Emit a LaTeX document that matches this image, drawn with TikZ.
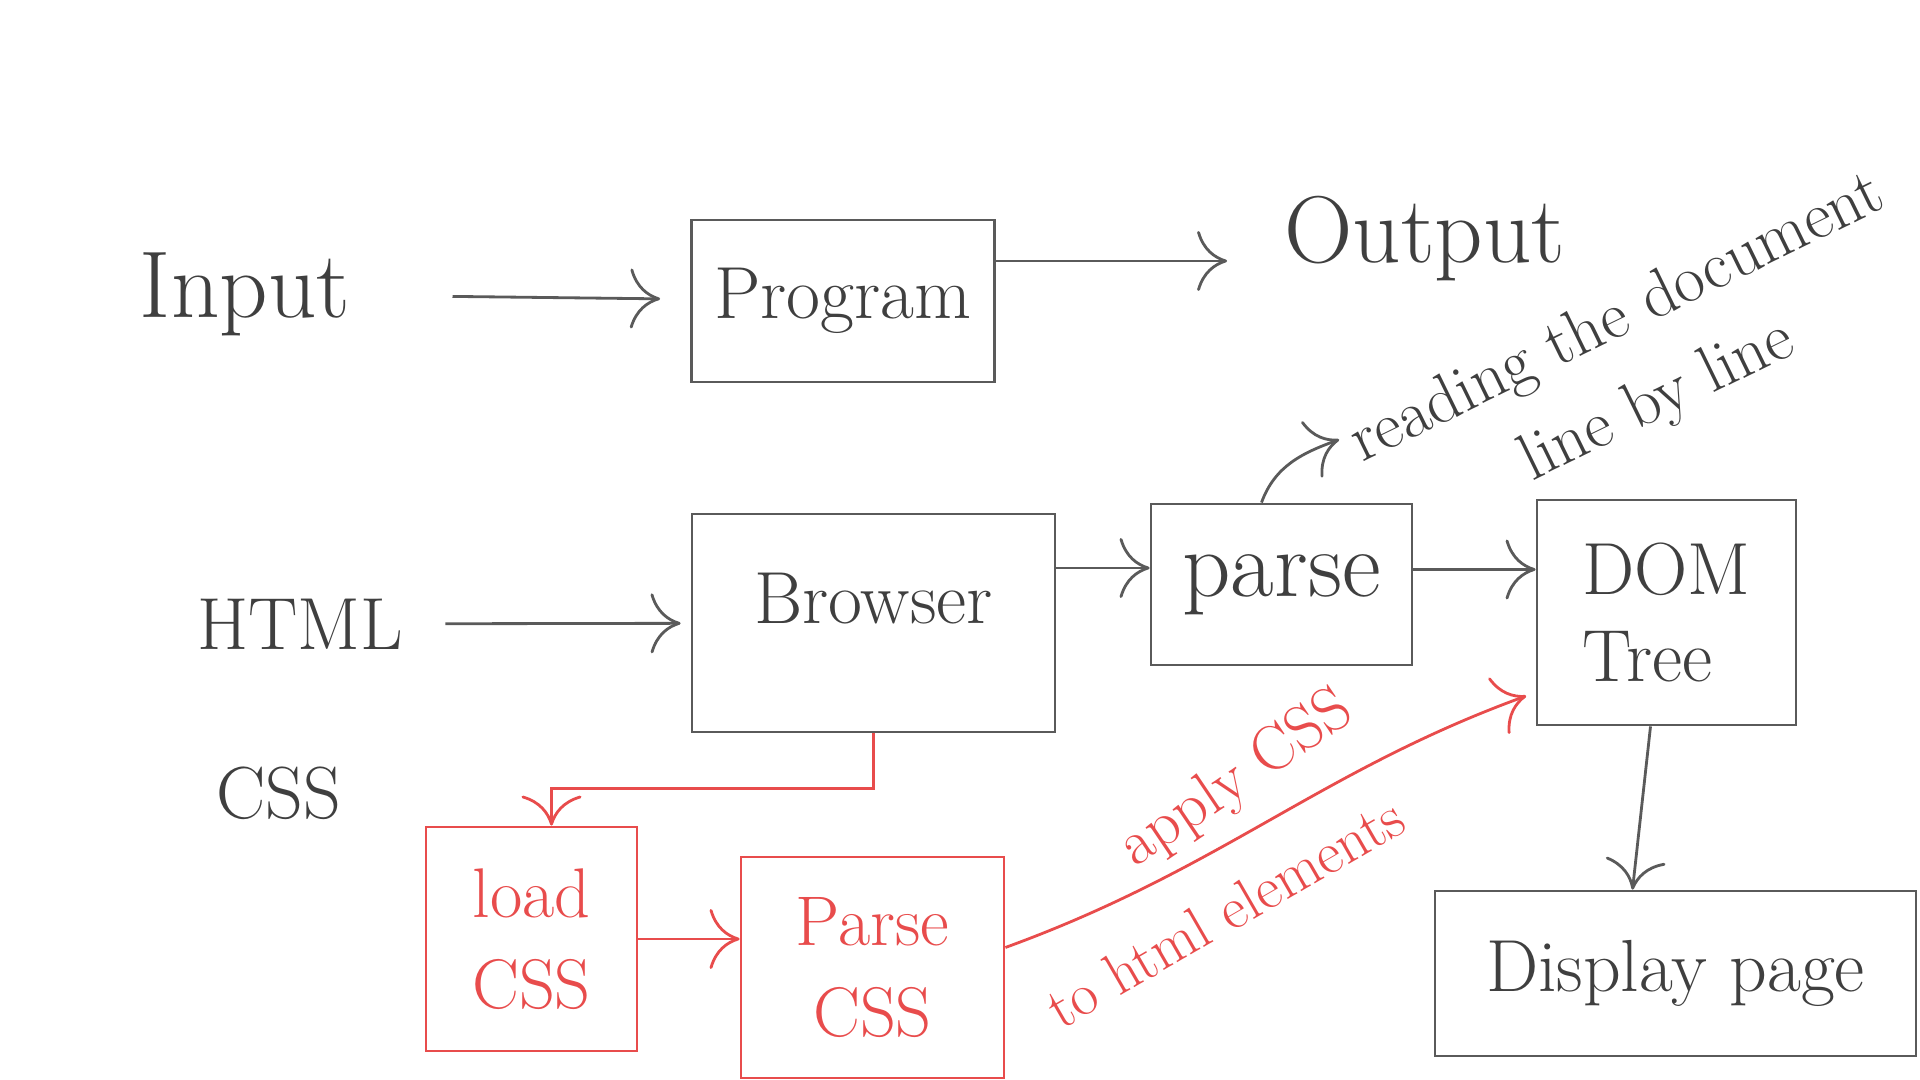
\documentclass[tikz,border=0pt]{standalone}
\usepackage{fontspec}
\usetikzlibrary{arrows.meta}

\definecolor{ink}{RGB}{90,90,90}
\definecolor{redink}{RGB}{232,76,76}

\tikzset{
    word/.style={text=ink!70!black, font=\fontsize{21}{25}\selectfont},
    bigword/.style={text=ink!70!black, font=\fontsize{27}{31}\selectfont},
    box/.style={draw=ink, thick, text=ink!70!black, font=\fontsize{21}{25}\selectfont},
    redbox/.style={draw=redink, thick, text=redink, align=center, font=\fontsize{20}{26}\selectfont},
    flow/.style={draw=ink, thick, -{To[length=3mm,width=6mm]}},
    redflow/.style={draw=redink, thick, -{To[length=3mm,width=6mm]}},
}

\begin{document}
\begin{tikzpicture}
    \useasboundingbox (0,0) rectangle (19.2,10.8);

    % Program in general
    \node[bigword] (input) at (2.45,7.86) {Input};
    \node[box, minimum width=3.03cm, minimum height=1.62cm] (program) at (8.43,7.79) {Program};
    \node[bigword] (output) at (14.25,8.41) {Output};

    \draw[flow, shorten <=0.9cm, shorten >=0.3cm] (input) -- (program);
    \draw[flow, shorten >=0.45cm] ([yshift=4mm]program.east) -- ([yshift=4mm]program.east -| output.west);

    % Browser
    \node[word] (html) at (3.00,4.56) {HTML};
    \node[word] (css) at (2.79,2.87) {CSS};
    \node[box, text depth=0.5cm, minimum width=3.63cm, minimum height=2.18cm] (browser) at (8.735,4.57) {Browser};
    \node[box, minimum width=2.61cm, minimum height=1.61cm] (parse) at (12.815,4.955) {\fontsize{27}{31}\selectfont parse};
    \node[box, align=left, minimum width=2.59cm, minimum height=2.25cm] (dom) at (16.665,4.675) {DOM\\Tree};
    \node[box, minimum width=4.81cm, minimum height=1.65cm] (display) at (16.755,1.065) {Display page};
    \node[word, rotate=26, align=center, font=\fontsize{19}{26}\selectfont] (note) at (16.38,7.19) {reading the document\\line by line};

    \draw[flow, shorten <=0.3cm, shorten >=0.1cm] (html) -- (browser);
    \draw[flow] ([yshift=5.5mm]browser.east) -- ([yshift=5.5mm]browser.east -| parse.west);
    \draw[flow] ([yshift=1.5mm]parse.east) -- ([yshift=1.5mm]parse.east -| dom.west);
    \draw[flow] ([xshift=-1.6mm]dom.south) -- ([xshift=-4.3mm]display.north);
    \draw[flow] ([xshift=-2mm]parse.north) to[out=70, in=200] ([shift={(-0.25,0.55)}]note.west);

    % CSS part
    \node[redbox, minimum width=2.11cm, minimum height=2.24cm] (load) at (5.315,1.41) {load\\CSS};
    \node[redbox, minimum width=2.63cm, minimum height=2.21cm] (pcss) at (8.725,1.125) {Parse\\CSS};
    \node[text=redink, rotate=34, font=\fontsize{18}{22}\selectfont] (apply) at (12.37,3.0) {apply CSS};
    \node[text=redink, rotate=30, font=\fontsize{17}{20}\selectfont] (elems) at (12.25,1.68) {to html elements};

    \draw[redflow] (browser.south) -- ++(0,-0.55) -| ([xshift=2mm]load.north);
    \draw[redflow] (load.east) -- (load.east -| pcss.west);
    \draw[redflow, shorten >=1mm] ([yshift=2mm]pcss.east) to[out=20, in=200] ([yshift=-8mm]dom.west);

\end{tikzpicture}
\end{document}
